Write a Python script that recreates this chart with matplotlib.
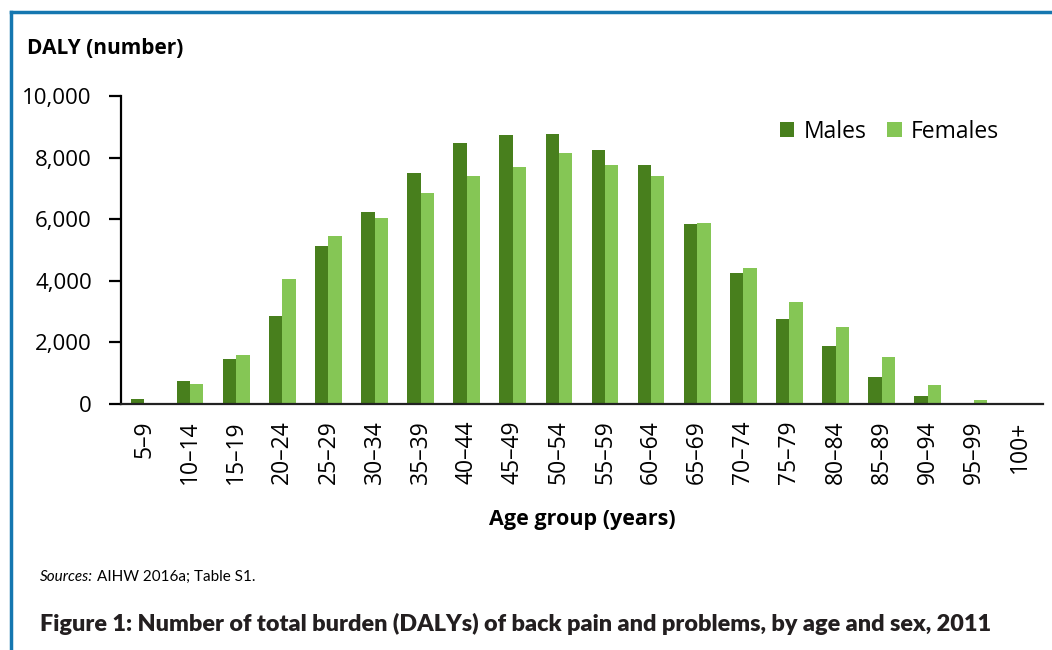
import numpy as np
import matplotlib
matplotlib.use("Agg")
import matplotlib.pyplot as plt
from matplotlib.lines import Line2D
from matplotlib.ticker import FuncFormatter

# DALYs for back pain and problems by age group, 2011
age_groups = ['5–9', '10–14', '15–19', '20–24', '25–29', '30–34', '35–39', '40–44',
              '45–49', '50–54', '55–59', '60–64', '65–69', '70–74', '75–79', '80–84',
              '85–89', '90–94', '95–99', '100+']
males = [170, 750, 1460, 2860, 5130, 6230, 7500, 8470, 8730, 8770,
         8250, 7760, 5840, 4250, 2760, 1880, 880, 260, 40, 0]
females = [0, 650, 1590, 4060, 5460, 6040, 6850, 7400, 7700, 8150,
           7760, 7400, 5880, 4420, 3310, 2500, 1530, 620, 130, 0]

male_col = '#487f1d'
female_col = '#85c655'
frame_col = '#1577b0'

plt.rcParams['font.family'] = ['Open Sans', 'DejaVu Sans']

fig = plt.figure(figsize=(10.52, 6.5), dpi=100)
ax = fig.add_axes([0.115, 0.3785, 0.8764, 0.4738])

x = np.arange(len(age_groups))
w = 0.29
ax.bar(x - w / 2, males, width=w, color=male_col, label='Males')
ax.bar(x + w / 2, females, width=w, color=female_col, label='Females')

ax.set_xlim(-0.5, len(age_groups) - 0.5)
ax.set_ylim(0, 10000)
ax.set_yticks(np.arange(0, 10001, 2000))
ax.yaxis.set_major_formatter(FuncFormatter(lambda v, p: f'{int(v):,}'))
ax.set_xticks(x)
ax.set_xticklabels(age_groups, rotation=90)

for s in ['top', 'right']:
    ax.spines[s].set_visible(False)
ax.spines['left'].set_linewidth(1.6)
ax.spines['bottom'].set_linewidth(1.6)
ax.spines['bottom'].set_color('#222222')
ax.tick_params(axis='y', length=9, width=1.6, labelsize=16, pad=12)
ax.tick_params(axis='x', length=0, labelsize=16.5, pad=12)

ax.legend(loc='upper right', bbox_to_anchor=(0.975, 0.99), ncol=2, frameon=False,
          fontsize=16.5, handlelength=0.65, handleheight=0.65, handletextpad=0.4,
          columnspacing=0.9)

ax.set_xlabel('Age group (years)', fontsize=15.5, fontweight='bold', labelpad=18)
fig.text(0.026, 0.925, 'DALY (number)', fontsize=15, fontweight='bold', va='center')

# source note and figure caption
narrow = ['Lato', 'DejaVu Sans']
fig.text(0.038, 0.112, 'Sources:', fontsize=11, style='italic', family=narrow, va='center')
fig.text(0.092, 0.112, 'AIHW 2016a; Table S1.', fontsize=11, family=narrow, va='center')
fig.text(0.038, 0.04, 'Figure 1: Number of total burden (DALYs) of back pain and problems, by age and sex, 2011',
         fontsize=16.8, fontweight='heavy', family=narrow, va='center', color='#231f20')

# blue frame on the left and top edges
fig.add_artist(Line2D([0.0105, 0.0105], [0, 0.982], color=frame_col, lw=2.5))
fig.add_artist(Line2D([0.0105, 1.0], [0.982, 0.982], color=frame_col, lw=2.5))

fig.savefig('out.png', dpi=100)
